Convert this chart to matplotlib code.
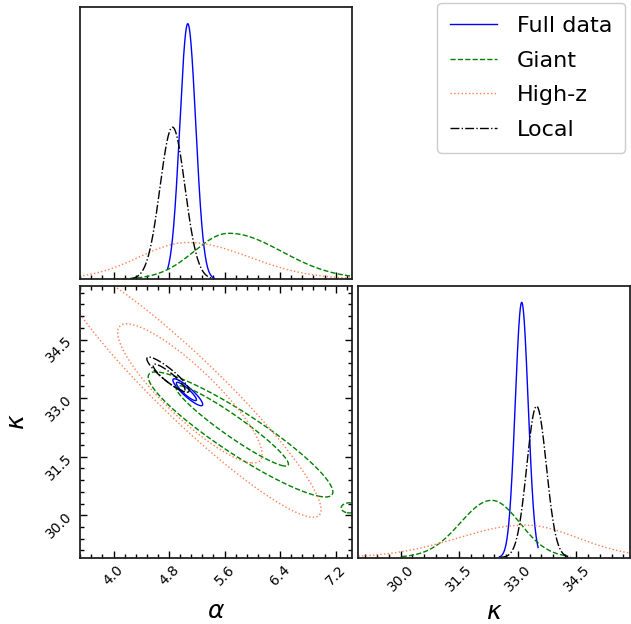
import numpy as np
import matplotlib
matplotlib.use('Agg')
import matplotlib.pyplot as plt
from matplotlib.ticker import FixedLocator, AutoMinorLocator, NullFormatter

# ---------------- data ----------------
labels = ['Full data', 'Giant', 'High-z', 'Local']
colors = ['blue', 'green', 'coral', 'black']
styles = ['solid', 'dashed', 'dotted', 'dashdot']

alpha_lim = (3.51, 7.44)
kappa_lim = (28.92, 35.87)
alpha_ticks = [4.0, 4.8, 5.6, 6.4, 7.2]
kappa_ticks = [30.0, 31.5, 33.0, 34.5]

# 1D marginal of alpha: peak position, left / right width, relative height, drawn range
alpha_peak = [5.07, 5.66, 5.07, 4.85]
alpha_wl = [0.115, 0.50, 0.70, 0.18]
alpha_wr = [0.115, 0.76, 0.88, 0.18]
alpha_height = [1.0, 0.18, 0.144, 0.595]
alpha_lo = [4.78, 4.13, 3.51, 4.25]
alpha_hi = [5.45, 7.44, 7.44, 5.45]

# 1D marginal of kappa
kappa_peak = [33.10, 32.33, 33.18, 33.48]
kappa_wl = [0.165, 0.80, 1.70, 0.25]
kappa_wr = [0.165, 0.72, 1.35, 0.25]
kappa_height = [1.0, 0.224, 0.127, 0.593]
kappa_lo = [32.53, 30.03, 28.92, 32.57]
kappa_hi = [33.52, 34.29, 35.87, 34.35]

# 2D credible contours: dataset, centre (alpha, kappa), half extents, correlation
c_set = [0, 0, 1, 1, 1, 2, 2, 3, 3]
c_alpha = [5.05, 5.07, 5.71, 5.83, 7.40, 5.10, 5.10, 4.80, 4.785]
c_kappa = [33.17, 33.15, 32.29, 32.07, 30.19, 33.12, 33.20, 33.53, 33.60]
c_salpha = [0.145, 0.215, 0.81, 1.33, 0.12, 1.04, 1.89, 0.23, 0.305]
c_skappa = [0.235, 0.345, 1.03, 1.60, 0.13, 1.78, 3.25, 0.34, 0.45]
c_rho = [-0.9, -0.9, -0.95, -0.92, 0.0, -0.875, -0.94, -0.9, -0.9]

ymax_1d = 1.064

# ---------------- figure ----------------
W, H = 631, 624
fig = plt.figure(figsize=(W / 100, H / 100), dpi=100)


def px_axes(x0, x1, y0, y1):
    return fig.add_axes([x0 / W, 1 - y1 / H, (x1 - x0) / W, (y1 - y0) / H])


ax_a = px_axes(79.5, 352.3, 7.3, 279.3)
ax_2d = px_axes(79.5, 352.3, 286, 557.5)
ax_k = px_axes(358.3, 630, 286, 557.5)


def style_axes(ax):
    for s in ax.spines.values():
        s.set_linewidth(1.3)
        s.set_color('#222222')
    ax.tick_params(which='major', length=5.3, width=1)
    ax.tick_params(which='minor', length=3.0, width=1)


def split_gauss(x, mu, wl, wr, h):
    w = np.where(x < mu, wl, wr)
    return h * np.exp(-0.5 * ((x - mu) / w) ** 2)


# alpha 1D
for i in range(4):
    x = np.linspace(alpha_lo[i], alpha_hi[i], 400)
    ax_a.plot(x, split_gauss(x, alpha_peak[i], alpha_wl[i], alpha_wr[i], alpha_height[i]),
              color=colors[i], linestyle=styles[i], lw=1.0, label=labels[i])
ax_a.set_xlim(*alpha_lim)
ax_a.set_ylim(0, ymax_1d)
ax_a.xaxis.set_major_locator(FixedLocator(alpha_ticks))
ax_a.xaxis.set_minor_locator(AutoMinorLocator(5))
ax_a.xaxis.set_major_formatter(NullFormatter())
ax_a.set_yticks([])
ax_a.tick_params(which='both', direction='in', bottom=True, top=False, left=False, right=False)
style_axes(ax_a)

# kappa 1D
for i in range(4):
    x = np.linspace(kappa_lo[i], kappa_hi[i], 400)
    ax_k.plot(x, split_gauss(x, kappa_peak[i], kappa_wl[i], kappa_wr[i], kappa_height[i]),
              color=colors[i], linestyle=styles[i], lw=1.0)
ax_k.set_xlim(*kappa_lim)
ax_k.set_ylim(0, ymax_1d)
ax_k.xaxis.set_major_locator(FixedLocator(kappa_ticks))
ax_k.xaxis.set_minor_locator(AutoMinorLocator(5))
ax_k.set_xticklabels([f'{t:.1f}' for t in kappa_ticks], rotation=45, fontsize=10)
ax_k.set_yticks([])
ax_k.tick_params(which='both', direction='in', bottom=True, top=False, left=False, right=False)
ax_k.set_xlabel(r'$\kappa$', fontsize=18, labelpad=4)
style_axes(ax_k)

# 2D contours
ga = np.linspace(alpha_lim[0] - 0.2, alpha_lim[1] + 0.2, 500)
gk = np.linspace(kappa_lim[0] - 0.3, kappa_lim[1] + 0.3, 500)
A, K = np.meshgrid(ga, gk)
for j in range(len(c_set)):
    i = c_set[j]
    u = (A - c_alpha[j]) / c_salpha[j]
    v = (K - c_kappa[j]) / c_skappa[j]
    r = c_rho[j]
    Q = (u * u - 2 * r * u * v + v * v) / (1 - r * r)
    ax_2d.contour(A, K, Q, levels=[1.0], colors=[colors[i]], linestyles=[styles[i]],
                  linewidths=1.0)
ax_2d.set_xlim(*alpha_lim)
ax_2d.set_ylim(*kappa_lim)
ax_2d.xaxis.set_major_locator(FixedLocator(alpha_ticks))
ax_2d.xaxis.set_minor_locator(AutoMinorLocator(5))
ax_2d.yaxis.set_major_locator(FixedLocator(kappa_ticks))
ax_2d.yaxis.set_minor_locator(AutoMinorLocator(5))
ax_2d.set_xticklabels([f'{t:.1f}' for t in alpha_ticks], rotation=45, fontsize=10)
ax_2d.set_yticklabels([f'{t:.1f}' for t in kappa_ticks], rotation=45, fontsize=10)
ax_2d.tick_params(which='both', direction='in', bottom=True, top=True, left=True, right=True)
ax_2d.set_xlabel(r'$\alpha$', fontsize=18, labelpad=8)
ax_2d.set_ylabel(r'$\kappa$', fontsize=18, labelpad=10)
style_axes(ax_2d)

handles, labs = ax_a.get_legend_handles_labels()
fig.legend(handles, labs, loc='upper right', bbox_to_anchor=(625 / W, 1 - 3 / H),
           borderaxespad=0, fontsize=16, labelspacing=0.66, handlelength=2.1,
           handletextpad=0.9, borderpad=0.58,
           framealpha=1, edgecolor='#cccccc')

fig.savefig('out.png', dpi=100)
